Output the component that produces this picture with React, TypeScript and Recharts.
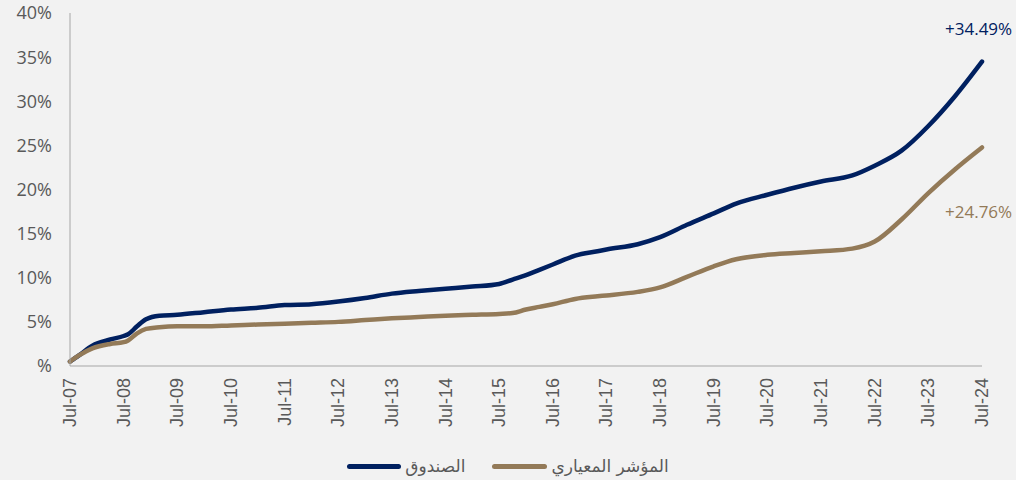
import React from "react";
import { LineChart, Line, XAxis, YAxis, Legend } from "recharts";

// months since Jul-07
const months = [
  0, 2, 5, 9, 12, 13, 15, 17, 20, 24, 30, 36, 42, 48, 54, 60, 66, 72, 78, 84, 90,
  96, 99, 102, 105, 108, 113, 118, 120, 127, 132, 138, 144, 149, 156, 162, 168,
  175, 180, 186, 192, 198, 204,
];

const fund = [
  0.5, 1.2, 2.3, 3.0, 3.4, 3.6, 4.5, 5.3, 5.7, 5.8, 6.1, 6.4, 6.6, 6.9, 7.0, 7.3,
  7.7, 8.2, 8.5, 8.75, 9.0, 9.3, 9.8, 10.3, 10.9, 11.5, 12.5, 13.0, 13.2, 13.8,
  14.6, 16.0, 17.3, 18.4, 19.4, 20.2, 20.9, 21.6, 22.7, 24.4, 27.2, 30.6, 34.49,
];

const benchmark = [
  0.5, 1.2, 2.0, 2.5, 2.7, 2.9, 3.7, 4.2, 4.4, 4.5, 4.5, 4.6, 4.7, 4.8, 4.9, 5.0,
  5.2, 5.4, 5.55, 5.7, 5.8, 5.9, 6.0, 6.4, 6.7, 7.0, 7.6, 7.9, 8.0, 8.4, 8.9,
  10.1, 11.3, 12.1, 12.6, 12.8, 13.0, 13.3, 14.1, 16.6, 19.6, 22.3, 24.76,
];

const years = [
  "07", "08", "09", "10", "11", "12", "13", "14", "15", "16", "17", "18", "19",
  "20", "21", "22", "23", "24",
];

const yTicks = [0, 5, 10, 15, 20, 25, 30, 35, 40];

const FUND_NAME = "الصندوق";
const BENCH_NAME = "المؤشر المعياري";
const FUND_COLOR = "#002060";
const BENCH_COLOR = "#937a58";

const data = months.map((m, i) => ({ m, fund: fund[i], benchmark: benchmark[i] }));
const xTicks = years.map((_, i) => i * 12);
const last = months.length - 1;

const XTick = (props: any) => {
  const { x, y, payload } = props;
  const label = "Jul-" + years[Math.round(payload.value / 12)];
  return (
    <text
      transform={`translate(${x},${y}) rotate(-90)`}
      textAnchor="end"
      dominantBaseline="central"
      fill="#595959"
      fontSize={18}
      fontFamily="'Liberation Sans', Arial, sans-serif"
    >
      {label}
    </text>
  );
};

const endLabel = (color: string, dx: number, dy: number) => (props: any) => {
  const { x, y, index, value } = props;
  if (index !== last) return null;
  return (
    <text
      x={x + dx}
      y={y + dy}
      fill={color}
      fontSize={17}
      fontFamily="'Open Sans', sans-serif"
    >
      {"+" + Number(value).toFixed(2) + "%"}
    </text>
  );
};

const LegendContent = () => (
  <div
    style={{
      display: "flex",
      justifyContent: "center",
      alignItems: "center",
      height: 28,
      paddingLeft: 34,
      fontFamily: "'DejaVu Sans', sans-serif",
      fontSize: 17,
      color: "#595959",
    }}
  >
    <span style={{ display: "inline-block", width: 54, height: 5, borderRadius: 3, background: FUND_COLOR }} />
    <span style={{ marginLeft: 4, marginRight: 27 }}>{FUND_NAME}</span>
    <span style={{ display: "inline-block", width: 55, height: 5, borderRadius: 3, background: BENCH_COLOR }} />
    <span style={{ marginLeft: 4 }}>{BENCH_NAME}</span>
  </div>
);

export default function App() {
  return (
    <div
      style={{
        position: "absolute",
        left: 0,
        top: 0,
        width: 1016,
        height: 480,
        background: "#f2f2f2",
      }}
    >
      <LineChart
        width={1016}
        height={480}
        data={data}
        margin={{ top: 13, right: 34, left: 0, bottom: 0 }}
      >
        <XAxis
          dataKey="m"
          type="number"
          domain={[0, 204]}
          ticks={xTicks}
          interval={0}
          tick={<XTick />}
          tickLine={false}
          tickSize={0}
          tickMargin={12}
          height={86}
          stroke="#a6a6a6"
        />
        <YAxis
          domain={[0, 40]}
          ticks={yTicks}
          interval={0}
          width={70}
          tickLine={false}
          tickSize={0}
          tickMargin={18}
          stroke="#a6a6a6"
          tick={{ fill: "#595959", fontSize: 18, fontFamily: "'Open Sans', sans-serif" }}
          tickFormatter={(v: number) => (v === 0 ? "%" : v + "%")}
        />
        <Legend verticalAlign="bottom" height={28} content={<LegendContent />} />
        <Line
          dataKey="fund"
          name={FUND_NAME}
          type="monotone"
          stroke={FUND_COLOR}
          strokeWidth={4.5}
          strokeLinecap="round"
          dot={false}
          isAnimationActive={false}
          label={endLabel(FUND_COLOR, -37, -27)}
        />
        <Line
          dataKey="benchmark"
          name={BENCH_NAME}
          type="monotone"
          stroke={BENCH_COLOR}
          strokeWidth={4.5}
          strokeLinecap="round"
          dot={false}
          isAnimationActive={false}
          label={endLabel(BENCH_COLOR, -37, 71)}
        />
      </LineChart>
    </div>
  );
}
